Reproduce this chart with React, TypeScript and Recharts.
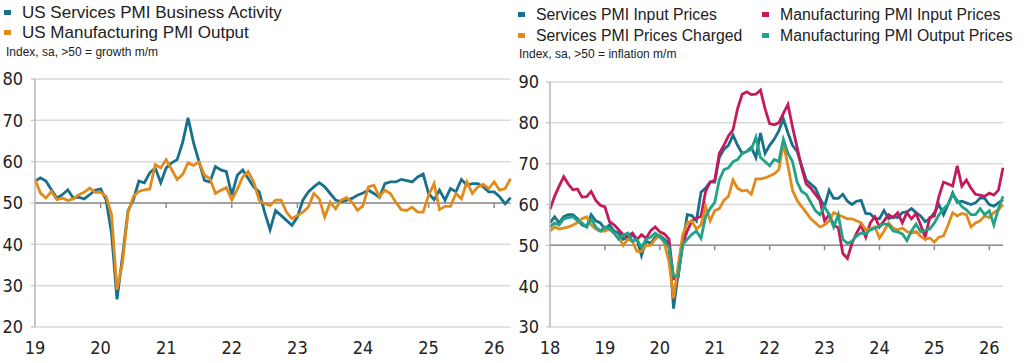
import { CartesianGrid, Line, LineChart, ReferenceLine, XAxis, YAxis } from "recharts";

// left panel: Jan 2019 .. Apr 2026, monthly
const leftYears = ["19", "20", "21", "22", "23", "24", "25", "26"];
const servicesActivity = [
  55.3, 56.1, 55.3, 53.2, 51.2, 52.0, 53.2, 51.2, 51.4, 51.0, 52.0, 53.1,
  53.4, 50.8, 42.7, 26.7, 37.0, 48.0, 50.8, 55.3, 54.9, 57.3, 58.5, 54.9,
  58.5, 59.7, 60.5, 64.6, 70.6, 64.6, 60.0, 55.5, 55.1, 58.8, 58.0, 57.6,
  51.9, 56.7, 58.0, 55.9, 53.9, 52.7, 47.8, 43.5, 48.2, 47.0, 45.8, 44.6,
  46.6, 50.7, 52.7, 53.9, 54.9, 53.9, 52.3, 50.7, 50.3, 50.7, 51.1, 51.9,
  52.4, 53.1, 52.3, 51.3, 54.7, 55.1, 55.1, 55.7, 55.4, 55.1, 56.3, 57.0,
  52.3, 50.8, 53.1, 50.7, 53.5, 52.7, 55.7, 54.3, 54.7, 54.7, 53.9, 52.7,
  52.7, 51.5, 49.8, 51.3,
];
const manufacturingOutput = [
  55.7, 52.4, 51.2, 52.8, 50.8, 51.2, 50.6, 51.0, 52.0, 52.6, 53.6, 52.6,
  52.6, 51.6, 47.2, 29.0, 35.5, 47.6, 51.6, 52.8, 53.2, 53.4, 59.3, 58.5,
  60.5, 58.1, 55.7, 56.9, 59.7, 59.1, 59.9, 56.7, 55.9, 52.3, 53.1, 53.7,
  50.7, 53.3, 56.3, 57.6, 55.1, 50.7, 49.8, 49.4, 50.7, 50.7, 47.8, 46.2,
  47.0, 47.8, 49.0, 52.3, 51.0, 46.6, 50.2, 48.6, 50.7, 51.3, 50.2, 48.2,
  49.4, 53.9, 54.3, 51.5, 53.1, 52.3, 50.2, 48.4, 48.2, 49.0, 47.8, 47.8,
  51.9, 54.7, 48.4, 49.2, 49.2, 52.3, 51.0, 55.1, 52.3, 53.9, 54.5, 53.5,
  55.1, 53.1, 53.5, 55.9,
];

// right panel: Jan 2018 .. Apr 2026, monthly
const rightYears = ["18", "19", "20", "21", "22", "23", "24", "25", "26"];
const svcInputPrices = [
  55.5, 57.0, 55.5, 57.0, 57.5, 57.5, 56.5, 55.0, 54.5, 57.5, 56.0, 55.5,
  54.0, 55.0, 53.5, 53.0, 51.5, 52.0, 52.5, 51.5, 47.5, 51.0, 50.5, 52.0,
  52.5, 51.5, 50.5, 34.5, 43.0, 50.5, 57.5, 57.3, 56.0, 63.0, 64.0, 65.5,
  65.5, 71.5, 73.5, 74.5, 77.0, 74.5, 72.5, 73.0, 74.0, 71.5, 77.5, 72.5,
  74.5, 76.0, 78.0, 81.0, 77.5, 74.5, 73.0, 69.5, 66.0, 65.0, 64.0, 61.5,
  59.5, 63.5, 61.5, 61.5, 62.5, 60.8, 60.0, 60.8, 61.0, 57.8, 57.7, 56.6,
  56.5, 58.5, 56.5, 57.0, 56.8, 58.0, 58.2, 59.0, 58.0, 57.2, 55.8, 56.5,
  58.0, 60.0, 57.5, 60.0, 62.8, 60.5, 60.8, 60.4, 60.0, 60.4, 61.6, 61.5,
  60.0, 59.6, 60.4, 61.2,
];
const mfgInputPrices = [
  58.8, 62.0, 64.5, 66.8, 65.0, 63.6, 63.8, 61.8, 61.9, 63.2, 61.0, 59.8,
  59.4, 55.8, 55.0, 53.8, 52.6, 52.2, 53.0, 51.4, 52.6, 51.7, 53.6, 54.5,
  53.3, 52.8, 51.5, 41.8, 42.2, 50.5, 53.5, 56.0, 56.7, 57.1, 63.2, 65.5,
  65.9, 72.5, 74.5, 76.8, 78.3, 83.5, 87.0, 87.6, 86.9, 87.0, 88.0, 83.5,
  79.8, 79.5, 80.0, 82.3, 84.5, 79.0, 74.0, 69.0, 65.0, 64.0, 62.5, 61.0,
  56.0, 57.5, 55.0, 54.3, 48.0, 46.8, 50.5, 53.0, 55.0, 52.0, 55.5, 57.0,
  54.5, 56.0, 57.5, 56.8, 58.0, 55.5, 58.0, 56.5, 57.8, 55.0, 52.0, 56.8,
  57.2, 62.0, 65.5, 65.0, 64.5, 69.5, 64.5, 66.0, 64.0, 62.5, 62.3, 62.0,
  62.8, 62.3, 63.5, 69.0,
];
const svcPricesCharged = [
  53.5, 54.5, 54.0, 54.2, 54.5, 55.0, 55.5, 56.5, 57.0, 55.0, 54.0, 53.5,
  53.5, 54.0, 53.0, 52.0, 50.0, 51.5, 51.0, 48.5, 48.5, 50.0, 50.0, 51.5,
  52.5, 50.5, 46.0, 37.0, 45.0, 52.5, 55.5, 56.0, 54.0, 55.0, 59.5, 56.0,
  58.5, 59.0, 61.0, 62.0, 66.0, 64.0, 63.3, 63.5, 62.5, 66.3, 66.3, 66.5,
  67.0, 67.5, 68.5, 75.0, 69.5, 63.5, 61.0, 59.5, 58.0, 56.5, 55.5, 54.5,
  55.0, 56.0, 58.0, 57.5, 57.0, 56.5, 56.5, 56.0, 55.5, 53.8, 54.0, 54.5,
  51.8, 53.5, 55.5, 54.2, 53.8, 54.2, 53.4, 53.0, 53.4, 52.2, 51.5, 51.8,
  50.8, 52.0, 52.3, 55.0, 58.0, 57.2, 57.8, 57.5, 54.5, 55.5, 56.0, 57.2,
  56.8, 58.0, 58.7, 60.0,
];
const mfgOutputPrices = [
  54.5, 55.5, 55.0, 56.5, 56.8, 57.0, 56.0, 55.5, 54.5, 56.5, 54.5, 53.5,
  54.5, 54.0, 53.0, 51.5, 52.5, 53.0, 51.0, 51.5, 49.5, 51.5, 52.0, 53.0,
  52.0, 51.0, 49.5, 42.5, 42.5, 50.2, 51.5, 52.7, 53.5, 51.7, 57.0, 59.0,
  60.5, 66.0, 68.5, 69.0, 70.5, 71.0, 72.5, 73.0, 73.5, 76.5, 71.5, 70.5,
  69.5, 71.0, 70.5, 76.0, 72.5, 70.5, 65.5, 63.2, 62.5, 60.5, 58.5, 57.5,
  59.5, 57.5, 54.5, 57.5, 51.5, 50.5, 51.0, 52.3, 53.0, 52.8, 53.8, 54.2,
  54.7, 55.3, 55.0, 53.5, 53.3, 52.8, 51.2, 53.5, 55.2, 53.3, 53.7, 54.0,
  55.5, 57.5, 59.0, 60.0, 62.5, 61.0, 59.5, 58.7, 57.5, 57.5, 59.0, 57.5,
  58.5, 55.0, 59.0, 62.0,
];

const BLUE = "#18708b";
const ORANGE = "#e38a1c";
const RED = "#c5195c";
const GREEN = "#20a386";
const GRID = "#d9d9d9";
const AXIS = "#b5b5b5";
const TEXT = "#222";
const LABEL_FONT = "'Liberation Sans Narrow', 'DejaVu Sans Condensed', Arial, sans-serif";
const LEGEND_FONT = "'Liberation Sans', Arial, sans-serif";

const leftData = servicesActivity.map((v, i) => ({
  m: i,
  services: v,
  manufacturing: manufacturingOutput[i],
}));

const rightData = svcInputPrices.map((v, i) => ({
  m: i,
  svcInput: v,
  mfgInput: mfgInputPrices[i],
  svcCharged: svcPricesCharged[i],
  mfgOutput: mfgOutputPrices[i],
}));

const leftTicks = leftYears.map((_, i) => i * 12);
const rightTicks = rightYears.map((_, i) => i * 12);

function Key({ color, label, x, y, size }: { color: string; label: string; x: number; y: number; size: number }) {
  return (
    <div style={{ position: "absolute", left: x, top: y, height: 20, lineHeight: "20px", whiteSpace: "nowrap" }}>
      <span
        style={{ position: "absolute", left: 0, top: 7, width: 7, height: 5, background: color }}
      />
      <span style={{ position: "absolute", left: 18, top: 0, fontSize: size, color: TEXT }}>{label}</span>
    </div>
  );
}

const tickStyle = { fontSize: 18, fill: TEXT, fontFamily: LABEL_FONT };

export default function App() {
  return (
    <div
      style={{
        position: "absolute",
        left: 0,
        top: 0,
        width: 1024,
        height: 363,
        background: "#fff",
        fontFamily: LEGEND_FONT,
        overflow: "hidden",
      }}
    >
      <Key color={BLUE} label="US Services PMI Business Activity" x={4} y={3} size={17} />
      <Key color={ORANGE} label="US Manufacturing PMI Output" x={4} y={23} size={17} />
      <div style={{ position: "absolute", left: 6, top: 45, fontSize: 12, color: TEXT }}>
        Index, sa, &gt;50 = growth m/m
      </div>

      <Key color={BLUE} label="Services PMI Input Prices" x={518} y={5} size={15.8} />
      <Key color={ORANGE} label="Services PMI Prices Charged" x={518} y={26} size={15.8} />
      <Key color={RED} label="Manufacturing PMI Input Prices" x={762} y={5} size={15.8} />
      <Key color={GREEN} label="Manufacturing PMI Output Prices" x={762} y={26} size={15.8} />
      <div style={{ position: "absolute", left: 519, top: 47, fontSize: 12, color: TEXT }}>
        Index, sa, &gt;50 = inflation m/m
      </div>

      <div style={{ position: "absolute", left: 0, top: 0 }}>
        <LineChart width={520} height={363} data={leftData} margin={{ top: 79, right: 9.4, bottom: 0, left: 0 }}>
          <CartesianGrid horizontal vertical={false} stroke={GRID} strokeWidth={1.5} />
          <XAxis
            dataKey="m"
            type="number"
            domain={[0, 87]}
            ticks={leftTicks}
            tickFormatter={(v: number) => leftYears[v / 12]}
            axisLine={false}
            tickLine={false}
            tickSize={0}
            tickMargin={14}
            height={36}
            tick={tickStyle}
            interval={0}
          />
          <YAxis
            type="number"
            domain={[20, 80]}
            ticks={[20, 30, 40, 50, 60, 70, 80]}
            width={35}
            axisLine={{ stroke: AXIS, strokeWidth: 1.5 }}
            tickLine={{ stroke: AXIS }}
            tickSize={4}
            tickMargin={8}
            tick={tickStyle}
            interval={0}
          />
          <ReferenceLine y={50} stroke="#8c8c8c" strokeWidth={1.5} />
          {leftTicks.slice(1).map((t) => (
            <ReferenceLine
              key={t}
              segment={[{ x: t, y: 50 }, { x: t, y: 48.8 }]}
              stroke="#8c8c8c"
              strokeWidth={1.5}
            />
          ))}
          <Line dataKey="services" stroke={BLUE} strokeWidth={2.8} dot={false} isAnimationActive={false} />
          <Line dataKey="manufacturing" stroke={ORANGE} strokeWidth={2.8} dot={false} isAnimationActive={false} />
        </LineChart>
      </div>

      <div style={{ position: "absolute", left: 512, top: 0 }}>
        <LineChart width={512} height={363} data={rightData} margin={{ top: 82, right: 21, bottom: 0, left: 0 }}>
          <CartesianGrid horizontal vertical={false} stroke={GRID} strokeWidth={1.5} />
          <XAxis
            dataKey="m"
            type="number"
            domain={[0, 99]}
            ticks={rightTicks}
            tickFormatter={(v: number) => rightYears[v / 12]}
            axisLine={false}
            tickLine={false}
            tickSize={0}
            tickMargin={14}
            height={36}
            tick={tickStyle}
            interval={0}
          />
          <YAxis
            type="number"
            domain={[30, 90]}
            ticks={[30, 40, 50, 60, 70, 80, 90]}
            width={38}
            axisLine={{ stroke: AXIS, strokeWidth: 1.5 }}
            tickLine={{ stroke: AXIS }}
            tickSize={4}
            tickMargin={7}
            tick={tickStyle}
            interval={0}
          />
          <ReferenceLine y={50} stroke="#8c8c8c" strokeWidth={1.5} />
          {rightTicks.slice(1).map((t) => (
            <ReferenceLine
              key={t}
              segment={[{ x: t, y: 50 }, { x: t, y: 48.8 }]}
              stroke="#8c8c8c"
              strokeWidth={1.5}
            />
          ))}
          <Line dataKey="svcInput" stroke={BLUE} strokeWidth={2.8} dot={false} isAnimationActive={false} />
          <Line dataKey="mfgInput" stroke={RED} strokeWidth={2.8} dot={false} isAnimationActive={false} />
          <Line dataKey="svcCharged" stroke={ORANGE} strokeWidth={2.8} dot={false} isAnimationActive={false} />
          <Line dataKey="mfgOutput" stroke={GREEN} strokeWidth={2.8} dot={false} isAnimationActive={false} />
        </LineChart>
      </div>
    </div>
  );
}
